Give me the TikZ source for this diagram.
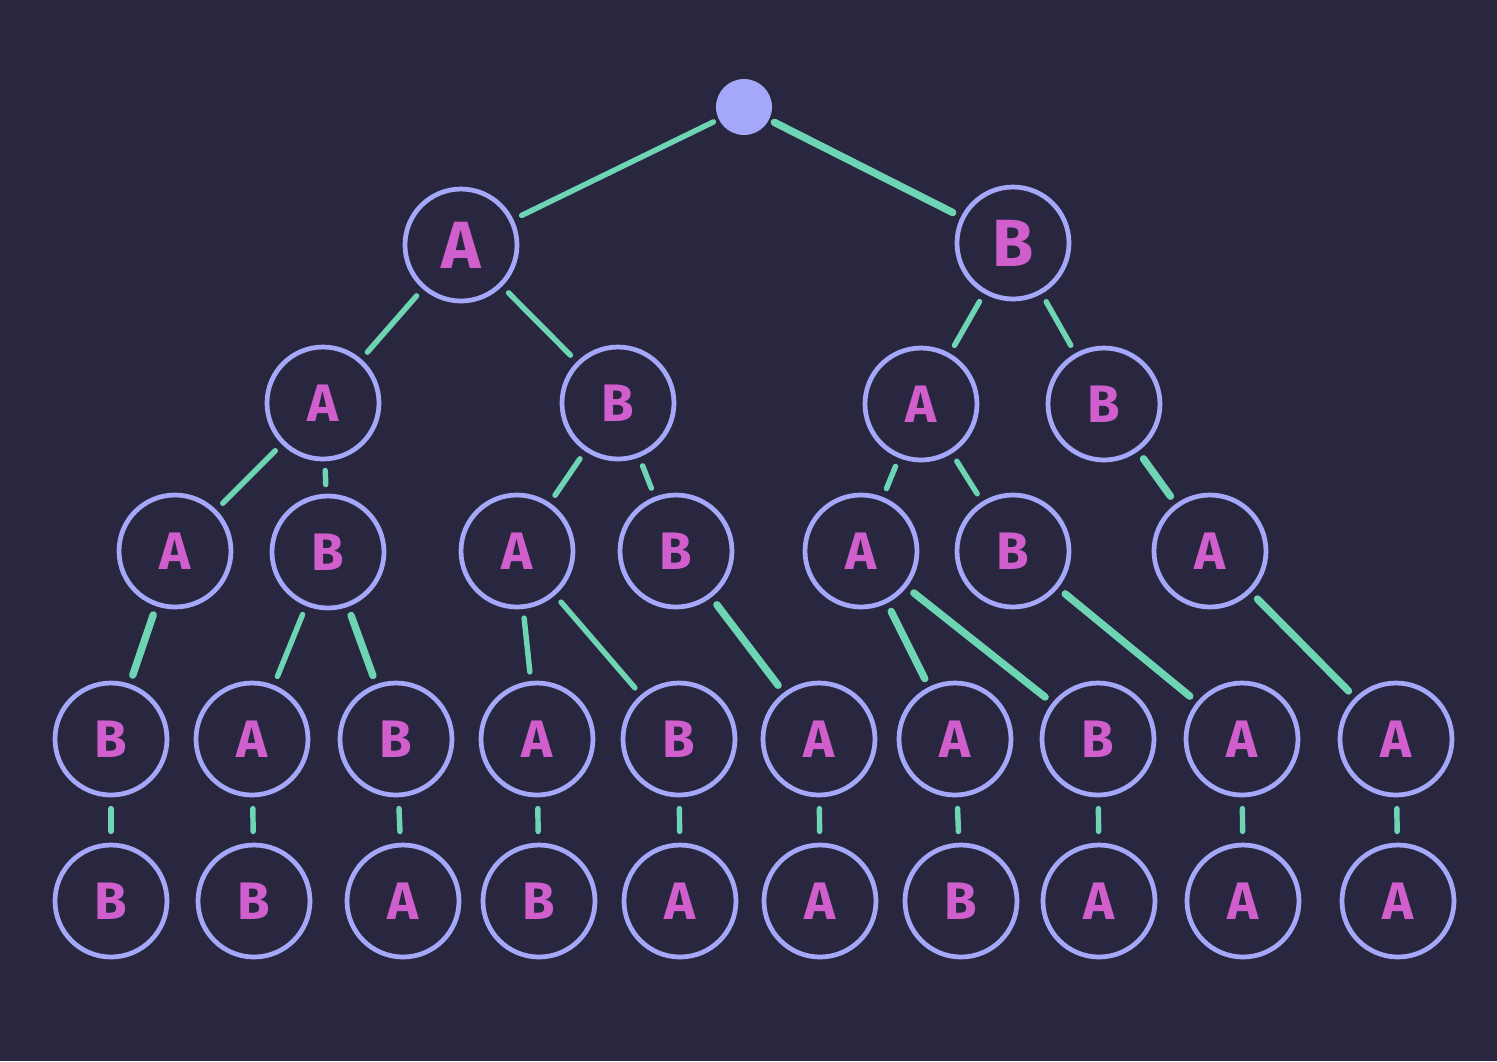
\documentclass[tikz,border=0pt]{standalone}
\usepackage{fontspec}
\setmainfont{Fira Sans}
\usepackage{xcolor}
\usetikzlibrary{positioning}

\definecolor{bgnavy}{HTML}{28273F}
\definecolor{ringblue}{HTML}{A5A8F8}
\definecolor{letterpink}{HTML}{D05FCD}
\definecolor{edgeteal}{HTML}{6DD5B4}

\begin{document}
\begin{tikzpicture}[
  leaf/.style={circle, draw=ringblue, line width=1.35pt, minimum size=1.12cm, inner sep=0pt,
    text=letterpink, font=\fontsize{15}{15}\selectfont\bfseries},
  bigleaf/.style={leaf, font=\fontsize{19}{19}\selectfont\bfseries},
  start/.style={circle, fill=ringblue, minimum size=0.56cm, inner sep=0pt},
  edge/.style={draw=edgeteal, line width=1.55pt, line cap=round, shorten <=2.6pt, shorten >=2.6pt},
  edgew/.style={edge, line width=2.1pt},
  stub/.style={edge, shorten <=3.2pt, shorten >=3.2pt}
]
  \fill[bgnavy] (0,0) rectangle (14.97,-10.61);
  \useasboundingbox (0,0) rectangle (14.97,-10.61);

  % Root and first level
  \node[start] (root) at (7.44,-1.07) {};
  \node[bigleaf] (a) at (4.61,-2.45) {A};
  \node[bigleaf] (b) at (10.13,-2.43) {B};
  \draw[edge, shorten <=1.5pt] (root) -- (a);
  \draw[edgew, shorten <=1.5pt] (root) -- (b);

  % Level 2
  \node[leaf] (aa) at (3.23,-4.03) {A};
  \node[leaf] (ab) at (6.18,-4.03) {B};
  \node[leaf] (ba) at (9.21,-4.04) {A};
  \node[leaf] (bb) at (11.04,-4.04) {B};
  \draw[edge] (a) -- (aa);
  \draw[edge] (a) -- (ab);
  \draw[edge] (b) -- (ba);
  \draw[edge] (b) -- (bb);

  % Level 3
  \node[leaf] (aaa) at (1.75,-5.51) {A};
  \node[leaf] (aab) at (3.28,-5.52) {B};
  \node[leaf] (aba) at (5.17,-5.51) {A};
  \node[leaf] (abb) at (6.76,-5.51) {B};
  \node[leaf] (baa) at (8.61,-5.51) {A};
  \node[leaf] (bab) at (10.13,-5.51) {B};
  \node[leaf] (bba) at (12.10,-5.51) {A};
  \draw[edge] (aa) -- (aaa);
  \draw[edge] (aa) -- (aab);
  \draw[edge] (ab) -- (aba);
  \draw[edge] (ab) -- (abb);
  \draw[edge] (ba) -- (baa);
  \draw[edge] (ba) -- (bab);
  \draw[edgew] (bb) -- (bba);

  % Level 4
  \node[leaf] (aaab) at (1.11,-7.39) {B};
  \node[leaf] (aaba) at (2.52,-7.39) {A};
  \node[leaf] (aabb) at (3.96,-7.39) {B};
  \node[leaf] (abaa) at (5.37,-7.39) {A};
  \node[leaf] (abab) at (6.79,-7.39) {B};
  \node[leaf] (abba) at (8.19,-7.39) {A};
  \node[leaf] (baaa) at (9.55,-7.39) {A};
  \node[leaf] (baab) at (10.98,-7.39) {B};
  \node[leaf] (baba) at (12.42,-7.39) {A};
  \node[leaf] (bbaa) at (13.96,-7.39) {A};
  \draw[edgew] (aaa) -- (aaab);
  \draw[edge] (aab) -- (aaba);
  \draw[edgew] (aab) -- (aabb);
  \draw[edge] (aba) -- (abaa);
  \draw[edge] (aba) -- (abab);
  \draw[edgew] (abb) -- (abba);
  \draw[edgew] (baa) -- (baaa);
  \draw[edgew] (baa) -- (baab);
  \draw[edgew] (bab) -- (baba);
  \draw[edgew] (bba) -- (bbaa);

  % Level 5
  \node[leaf] (aaabb) at (1.11,-9.01) {B};
  \node[leaf] (aabab) at (2.54,-9.01) {B};
  \node[leaf] (aabba) at (4.03,-9.01) {A};
  \node[leaf] (abaab) at (5.39,-9.01) {B};
  \node[leaf] (ababa) at (6.80,-9.01) {A};
  \node[leaf] (abbaa) at (8.20,-9.01) {A};
  \node[leaf] (baaab) at (9.61,-9.01) {B};
  \node[leaf] (baaba) at (10.99,-9.01) {A};
  \node[leaf] (babaa) at (12.43,-9.01) {A};
  \node[leaf] (bbaaa) at (13.98,-9.01) {A};
  \draw[stub] (aaab) -- (aaabb);
  \draw[stub] (aaba) -- (aabab);
  \draw[stub] (aabb) -- (aabba);
  \draw[stub] (abaa) -- (abaab);
  \draw[stub] (abab) -- (ababa);
  \draw[stub] (abba) -- (abbaa);
  \draw[stub] (baaa) -- (baaab);
  \draw[stub] (baab) -- (baaba);
  \draw[stub] (baba) -- (babaa);
  \draw[stub] (bbaa) -- (bbaaa);

\end{tikzpicture}
\end{document}
